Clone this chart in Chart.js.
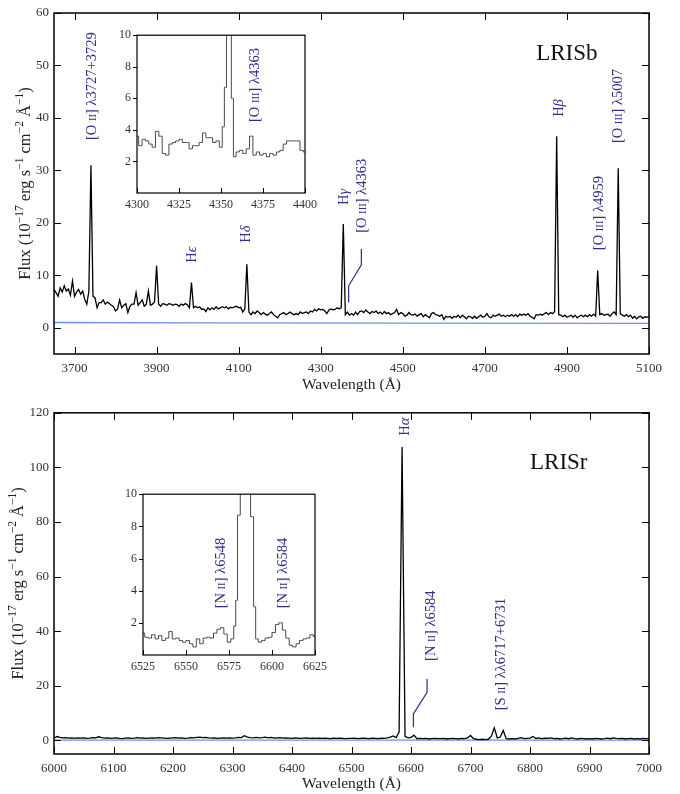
<!DOCTYPE html>
<html>
<head>
<meta charset="utf-8">
<script src="https://cdn.jsdelivr.net/npm/chart.js@4.4.0/dist/chart.umd.min.js"></script>
<style>
  body { margin: 0; background: #fff; }
  #page { position: relative; width: 680px; height: 794px; overflow: hidden; }
  canvas { position: absolute; }
</style>
</head>
<body>
<div id="page">
  <canvas id="blue" width="680" height="400" style="left:0;top:0"></canvas>
  <canvas id="red" width="680" height="394" style="left:0;top:400px"></canvas>
  <canvas id="blueInset" width="222" height="198" style="left:100px;top:22px"></canvas>
  <canvas id="redInset" width="227" height="198" style="left:105px;top:481px"></canvas>
</div>
<script>
const FONT = '"Liberation Serif", "DejaVu Serif", serif';
const NAVY = '#2e2e8c';
const SKY = '#6d8ff0';

// LRISb spectrum, 5 A bins starting at 3650 A
const blueStart = 3650, blueStep = 5;
const blueFlux = [
  7.3, 6.7, 6.0, 7.6, 6.8, 8.0, 7.0, 7.4, 6.2, 8.9,
  6.0, 6.8, 7.3, 6.4, 7.0, 5.4, 4.5, 7.0, 31.0, 6.0,
  5.7, 3.8, 4.8, 4.8, 5.3, 4.5, 4.9, 4.6, 4.3, 4.0,
  3.2, 3.6, 5.3, 3.8, 4.3, 4.6, 2.9, 4.1, 4.5, 4.5,
  6.7, 4.3, 4.8, 5.3, 4.1, 4.5, 7.0, 4.3, 4.5, 4.9,
  11.8, 4.5, 4.1, 4.6, 4.5, 4.3, 4.6, 4.5, 4.3, 4.5,
  4.4, 4.1, 4.5, 4.3, 4.6, 4.4, 3.8, 8.6, 3.8, 4.1,
  3.8, 4.0, 3.5, 3.6, 3.1, 3.8, 3.4, 3.8, 3.5, 4.0,
  3.6, 3.8, 4.0, 3.8, 4.0, 3.6, 3.9, 3.8, 4.0, 4.1,
  3.8, 3.9, 3.0, 3.6, 12.1, 3.0, 2.5, 3.0, 2.7, 3.2,
  2.9, 2.5, 2.9, 2.6, 2.4, 2.7, 3.0, 2.5, 2.2, 1.9,
  2.5, 2.7, 2.9, 2.5, 2.7, 3.0, 2.7, 2.5, 2.7, 2.5,
  3.0, 2.7, 2.9, 3.0, 2.7, 3.2, 3.0, 3.5, 3.2, 3.6,
  3.4, 3.5, 3.2, 2.7, 3.4, 3.6, 3.4, 3.5, 3.8, 3.6,
  3.8, 19.8, 2.5, 3.0, 2.4, 2.7, 2.4, 3.0, 2.5, 3.1,
  3.2, 2.9, 3.4, 3.0, 2.7, 3.1, 2.9, 3.2, 2.7, 3.0,
  2.6, 3.1, 2.7, 2.9, 2.5, 2.7, 2.9, 3.5, 2.5, 2.9,
  2.7, 2.2, 2.4, 2.9, 2.5, 2.4, 2.6, 2.2, 2.5, 2.7,
  2.1, 2.5, 2.2, 1.9, 2.7, 2.9, 2.5, 2.4, 2.2, 2.5,
  1.6, 2.2, 2.0, 2.2, 1.8, 2.2, 2.0, 2.4, 1.9, 2.4,
  2.1, 1.7, 2.2, 2.1, 1.8, 2.2, 1.8, 2.1, 2.4, 2.0,
  2.2, 2.7, 2.1, 1.9, 2.4, 2.2, 2.4, 2.6, 2.2, 2.4,
  2.1, 2.4, 2.2, 2.5, 2.2, 2.5, 2.1, 2.6, 2.4, 2.6,
  2.4, 2.7, 2.2, 2.0, 1.7, 2.5, 2.4, 2.6, 2.4, 2.7,
  2.9, 2.5, 2.9, 2.7, 3.1, 36.5, 2.5, 2.4, 2.1, 2.4,
  2.0, 2.2, 2.4, 2.0, 2.4, 1.9, 2.2, 2.4, 2.1, 2.4,
  2.1, 2.5, 2.2, 2.6, 2.2, 10.9, 2.5, 2.7, 2.4, 2.5,
  2.6, 2.2, 2.7, 3.0, 2.5, 30.4, 2.7, 2.4, 2.2, 2.5,
  2.1, 2.4, 1.8, 2.2, 1.7, 2.1, 2.2, 1.8, 2.1, 2.0,
  2.2
];
const blueErrWave = [3650, 4000, 4500, 5100];
const blueErr = [1.0, 0.95, 0.9, 0.85];
const blueXTicks = [3700, 3900, 4100, 4300, 4500, 4700, 4900, 5100];
const blueYTicks = [0, 10, 20, 30, 40, 50, 60];

// LRISr spectrum, 5 A bins starting at 6000 A
const redStart = 6000, redStep = 5;
const redFlux = [
  0.8, 1.4, 1.1, 0.9, 1.0, 0.8, 0.9, 0.7, 0.9, 0.8,
  0.9, 0.7, 0.8, 1.0, 0.9, 1.3, 1.0, 0.8, 0.9, 0.7,
  0.8, 0.9, 0.7, 0.6, 0.8, 0.9, 0.7, 0.8, 1.0, 0.8,
  0.9, 0.7, 0.8, 0.9, 0.8, 1.0, 0.9, 0.8, 0.7, 0.8,
  0.9, 1.0, 0.8, 0.9, 0.7, 0.8, 1.0, 0.9, 1.1, 1.2,
  1.0, 1.1, 0.9, 0.8, 0.9, 0.7, 0.8, 0.9, 0.8, 0.9,
  0.8, 0.9, 1.1, 1.0, 1.7, 1.2, 1.0, 0.9, 1.1, 0.9,
  1.0, 1.2, 0.9, 1.1, 0.8, 0.9, 1.0, 0.8, 0.9, 0.8,
  0.7, 0.9, 0.8, 0.7, 0.8, 0.9, 0.7, 0.8, 0.7, 0.8,
  0.7, 0.8, 0.7, 0.6, 0.8, 0.7, 0.8, 0.7, 0.6, 0.7,
  0.7, 0.8, 0.6, 0.7, 0.8, 0.7, 0.6, 0.8, 0.7, 0.6,
  0.8, 0.7, 0.9, 1.2, 1.6, 1.0, 3.0, 107.5, 1.5, 0.9,
  1.1, 1.9, 0.6, 0.7, 0.6, 0.7, 0.5, 0.6, 0.7, 0.6,
  0.6, 0.7, 0.5, 0.6, 0.7, 0.6, 0.5, 0.7, 0.6, 0.9,
  1.8, 0.6, 0.4, 0.3, 0.4, 0.3, 0.4, 1.5, 4.6, 0.9,
  1.2, 3.6, 0.6, 0.5, 0.6, 0.5, 0.7, 1.0, 0.6, 0.7,
  0.8, 1.4, 0.7, 0.9, 0.6, 0.8, 0.7, 0.9, 0.6, 0.7,
  0.5, 0.6, 0.8, 0.6, 0.9, 0.6, 0.5, 0.7, 0.6, 0.5,
  0.6, 0.5, 0.7, 0.6, 0.5, 0.6, 0.8, 0.6, 0.9, 0.7,
  0.6, 0.7, 0.5, 0.6, 0.7, 0.5, 0.6, 0.5, 0.7, 0.6,
  0.6
];
const redErrWave = [6000, 6500, 7000];
const redErr = [0.1, 0.05, 0.05];
const redXTicks = [6000, 6100, 6200, 6300, 6400, 6500, 6600, 6700, 6800, 6900, 7000];
const redYTicks = [0, 20, 40, 60, 80, 100, 120];

// zoomed insets
const blueInsetWave = [4300, 4302, 4304, 4306, 4308, 4310, 4312, 4314, 4316, 4318,
  4320, 4322, 4324, 4326, 4328, 4330, 4332, 4334, 4336, 4338,
  4340, 4342, 4344, 4346, 4348, 4350, 4351.5, 4352.5, 4354, 4355.5, 4356.8,
  4358, 4360, 4362, 4364, 4366, 4368, 4370, 4372, 4374, 4376,
  4378, 4380, 4382, 4384, 4386, 4388, 4390, 4392, 4394, 4396, 4398, 4400];
const blueInsetFlux = [3.6, 3.0, 3.4, 3.3, 3.1, 2.9, 3.9, 3.6, 2.5, 2.4,
  3.1, 3.2, 3.3, 3.4, 3.2, 3.2, 2.8, 3.0, 3.0, 3.2,
  3.8, 3.5, 3.5, 3.2, 3.3, 2.9, 4.2, 6.7, 19.5, 19.5, 6.0,
  2.3, 2.6, 2.7, 2.5, 2.8, 3.6, 2.4, 2.6, 2.4, 2.5,
  2.3, 2.5, 2.4, 2.6, 2.7, 3.1, 3.3, 3.3, 3.3, 3.3, 2.7, 2.6];
const redInsetWave = [6525, 6527, 6529, 6531, 6533, 6535, 6537, 6539, 6541, 6543,
  6545, 6547, 6549, 6551, 6553, 6555, 6557, 6559, 6561, 6563,
  6565, 6567, 6569, 6571, 6573, 6575, 6577,
  6578.5, 6579.3, 6580.6, 6582.5, 6584.5, 6586.5, 6588.6, 6590,
  6591, 6593, 6595, 6597, 6599, 6601, 6603, 6605, 6607, 6609,
  6611, 6613, 6615, 6617, 6619, 6621, 6623, 6625];
const redInsetFlux = [1.36, 1.1, 1.05, 1.26, 1.0, 1.2, 0.9, 1.05, 1.46, 1.0,
  1.05, 0.9, 0.8, 0.9, 0.7, 0.5, 1.0, 0.7, 1.05, 1.1,
  1.05, 1.36, 1.6, 1.7, 1.3, 0.8, 1.0,
  1.8, 3.4, 8.7, 30, 30, 30, 8.6, 3.0,
  1.0, 0.8, 0.9, 1.05, 1.1, 1.4, 1.9, 2.0, 1.55, 1.05,
  0.6, 0.5, 0.7, 0.9, 1.0, 1.05, 1.26, 1.15];
const blueInsetXTicks = [4300, 4325, 4350, 4375, 4400];
const redInsetXTicks = [6525, 6550, 6575, 6600, 6625];
const insetYTicks = [2, 4, 6, 8, 10];

// line identifications: [wavelength, flux at the foot of the text, text]
// {..} small caps, <..> italic, ^{..} superscript
const blueLabels = [
  [3740, 35.8, '[O {II}] λ3727+3729'],
  [3984, 12.4, 'H<ϵ>'],
  [4116, 16.2, 'H<δ>'],
  [4354, 23.4, 'H<γ>'],
  [4398, 18.1, '[O {III}] λ4363'],
  [4877, 40.2, 'H<β>'],
  [4975, 14.8, '[O {III}] λ4959'],
  [5021, 35.2, '[O {III}] λ5007']
];
const blueLeader = [[4399, 15], [4399, 12], [4368, 8], [4368, 4.8]];
const blueInsetLabels = [[4369.5, 4.5, '[O {III}] λ4363']];
const redLabels = [
  [6588, 111.6, 'H<α>'],
  [6631, 29.1, '[N {II}] λ6584'],
  [6750, 11.0, '[S {II}] λλ6717+6731']
];
const redLeader = [[6627, 22.5], [6627, 17.6], [6604, 9.7], [6604, 4.8]];
const redInsetLabels = [
  [6570, 2.9, '[N {II}] λ6548'],
  [6606, 2.9, '[N {II}] λ6584']
];
const yTitle = 'Flux (10^{−17} erg s^{−1} cm^{−2} Å^{−1})';

function parseRich(str) {
  return str.split(/(\^\{[^}]*\}|\{[^}]*\}|<[^>]*>)/).filter(Boolean).map(p => {
    if (p.startsWith('^{')) return { t: p.slice(2, -1), kind: 'sup' };
    if (p.startsWith('{')) return { t: p.slice(1, -1), kind: 'sc' };
    if (p.startsWith('<')) return { t: p.slice(1, -1), kind: 'it' };
    return { t: p, kind: 'rm' };
  });
}

function segFont(kind, size) {
  const fs = kind === 'sc' ? size * 0.74 : kind === 'sup' ? size * 0.7 : size;
  return (kind === 'it' ? 'italic ' : '') + fs.toFixed(1) + 'px ' + FONT;
}

function drawRich(ctx, str, x, y, size, color, rotated, center) {
  const segs = parseRich(str);
  ctx.save();
  ctx.translate(x, y);
  if (rotated) ctx.rotate(-Math.PI / 2);
  ctx.fillStyle = color;
  ctx.textAlign = 'left';
  ctx.textBaseline = 'alphabetic';
  let cx = 0;
  if (center) {
    segs.forEach(s => { ctx.font = segFont(s.kind, size); cx -= ctx.measureText(s.t).width / 2; });
  }
  const base = rotated ? size * 0.35 : 0;
  segs.forEach(s => {
    ctx.font = segFont(s.kind, size);
    ctx.fillText(s.t, cx, base - (s.kind === 'sup' ? size * 0.4 : 0));
    cx += ctx.measureText(s.t).width;
  });
  ctx.restore();
}

// frame, inward ticks, leader lines and labels
const decor = {
  id: 'decor',
  afterDatasetsDraw(chart, args, o) {
    const { ctx, chartArea: a, scales: { x, y } } = chart;
    ctx.save();
    ctx.strokeStyle = '#000';
    ctx.lineWidth = 1;
    ctx.beginPath();
    x.ticks.forEach(t => {
      const px = Math.round(x.getPixelForValue(t.value)) + 0.5;
      ctx.moveTo(px, a.bottom); ctx.lineTo(px, a.bottom - o.tick);
      if (o.allSides) { ctx.moveTo(px, a.top); ctx.lineTo(px, a.top + o.tick); }
    });
    y.ticks.forEach(t => {
      const py = Math.round(y.getPixelForValue(t.value)) + 0.5;
      if (o.leftOut) { ctx.moveTo(a.left, py); ctx.lineTo(a.left - 4, py); }
      else { ctx.moveTo(a.left, py); ctx.lineTo(a.left + o.tick, py); }
      if (o.allSides) { ctx.moveTo(a.right, py); ctx.lineTo(a.right - o.tick, py); }
    });
    ctx.stroke();
    ctx.lineWidth = o.frame;
    ctx.strokeRect(a.left, a.top, a.right - a.left, a.bottom - a.top);

    if (o.leader) {
      ctx.strokeStyle = NAVY;
      ctx.lineWidth = 1.2;
      ctx.beginPath();
      o.leader.forEach(([w, f], i) => {
        const px = x.getPixelForValue(w), py = y.getPixelForValue(f);
        if (i) ctx.lineTo(px, py); else ctx.moveTo(px, py);
      });
      ctx.stroke();
    }
    (o.labels || []).forEach(([w, f, text]) => {
      drawRich(ctx, text, x.getPixelForValue(w), y.getPixelForValue(f), 14.5, NAVY, true, false);
    });
    if (o.tag) {
      drawRich(ctx, o.tag[2], x.getPixelForValue(o.tag[0]), y.getPixelForValue(o.tag[1]), 23, '#111', false, false);
    }
    if (o.yTitleX) {
      drawRich(ctx, yTitle, o.yTitleX, (a.top + a.bottom) / 2, 16.5, '#222', true, true);
    }
    ctx.restore();
  }
};

function spectrum(start, step, flux) {
  return flux.map((f, i) => ({ x: start + i * step, y: f }));
}

function pairs(wave, flux) {
  return wave.map((w, i) => ({ x: w, y: flux[i] }));
}

function panel(id, o) {
  const tickFont = { family: FONT, size: o.tickSize };
  return new Chart(document.getElementById(id), {
    type: 'line',
    data: { datasets: o.datasets },
    options: {
      responsive: false,
      animation: false,
      devicePixelRatio: 1,
      events: [],
      layout: { padding: o.pad },
      plugins: { legend: { display: false }, tooltip: { enabled: false }, decor: o.decor },
      scales: {
        x: {
          type: 'linear', min: o.xRange[0], max: o.xRange[1],
          grid: { display: false, drawTicks: false }, border: { display: false },
          ticks: { font: tickFont, color: '#333', padding: o.xPad, maxRotation: 0, autoSkip: false, callback: v => String(v) },
          afterBuildTicks: s => { s.ticks = o.xTicks.map(v => ({ value: v })); },
          afterFit: s => { s.height = o.xHeight; },
          title: o.xTitle ? {
            display: true, text: 'Wavelength (Å)', color: '#222',
            font: { family: FONT, size: 15.5 }, padding: { top: 0, bottom: o.xTitle }
          } : { display: false }
        },
        y: {
          type: 'linear', min: o.yRange[0], max: o.yRange[1],
          grid: { display: false, drawTicks: false }, border: { display: false },
          ticks: { font: tickFont, color: '#333', padding: o.yPad, autoSkip: false, callback: v => String(v) },
          afterBuildTicks: s => { s.ticks = o.yTicks.map(v => ({ value: v })); },
          afterFit: s => { s.width = o.yWidth; }
        }
      }
    },
    plugins: [decor]
  });
}

const mainLine = { borderColor: '#000', borderWidth: 1.3, pointRadius: 0, tension: 0 };
const errLine = { borderColor: SKY, borderWidth: 1.3, pointRadius: 0, tension: 0 };
const insetLine = { borderColor: '#4a4a4a', borderWidth: 1, pointRadius: 0, stepped: 'middle' };

panel('blue', {
  datasets: [
    Object.assign({ data: spectrum(blueStart, blueStep, blueFlux) }, mainLine),
    Object.assign({ data: pairs(blueErrWave, blueErr) }, errLine)
  ],
  pad: { top: 13, right: 31, left: 0, bottom: 0 },
  xRange: [3650, 5100], yRange: [-5, 60],
  xTicks: blueXTicks, yTicks: blueYTicks,
  xHeight: 46, yWidth: 54, xPad: 7, yPad: 5, tickSize: 13, xTitle: 6,
  decor: { tick: 7, frame: 1.5, allSides: true, labels: blueLabels, leader: blueLeader,
           tag: [4825, 51, 'LRISb'], yTitleX: 24 }
});

panel('red', {
  datasets: [
    Object.assign({ data: spectrum(redStart, redStep, redFlux) }, mainLine),
    Object.assign({ data: pairs(redErrWave, redErr) }, errLine)
  ],
  pad: { top: 10, right: 31, left: 0, bottom: 0 },
  xRange: [6000, 7000], yRange: [-5, 120],
  xTicks: redXTicks, yTicks: redYTicks,
  xHeight: 40, yWidth: 54, xPad: 7, yPad: 5, tickSize: 13, xTitle: 1,
  decor: { tick: 7, frame: 1.5, allSides: true, labels: redLabels, leader: redLeader,
           tag: [6800, 99.3, 'LRISr'], yTitleX: 17 }
});

panel('blueInset', {
  datasets: [Object.assign({ data: pairs(blueInsetWave, blueInsetFlux) }, insetLine)],
  pad: { top: 10, right: 10, left: 0, bottom: 0 },
  xRange: [4300, 4400], yRange: [0, 10],
  xTicks: blueInsetXTicks, yTicks: insetYTicks,
  xHeight: 27, yWidth: 37, xPad: 5, yPad: 6, tickSize: 12,
  decor: { tick: 5, frame: 1.2, leftOut: true, labels: blueInsetLabels }
});

panel('redInset', {
  datasets: [Object.assign({ data: pairs(redInsetWave, redInsetFlux) }, insetLine)],
  pad: { top: 10, right: 10, left: 0, bottom: 0 },
  xRange: [6525, 6625], yRange: [0, 10],
  xTicks: redInsetXTicks, yTicks: insetYTicks,
  xHeight: 24, yWidth: 38, xPad: 5, yPad: 6, tickSize: 12,
  decor: { tick: 5, frame: 1.2, leftOut: true, labels: redInsetLabels }
});
</script>
</body>
</html>
